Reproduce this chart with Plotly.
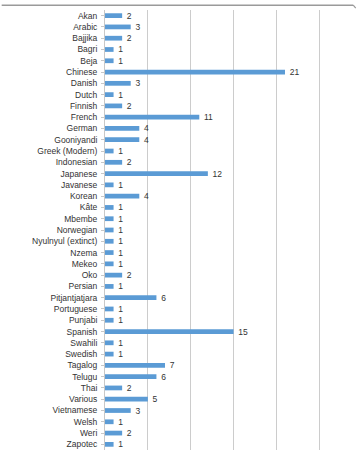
import plotly.graph_objects as go

languages = ["Akan", "Arabic", "Bajjika", "Bagri", "Beja", "Chinese", "Danish", "Dutch",
             "Finnish", "French", "German", "Gooniyandi", "Greek (Modern)", "Indonesian",
             "Japanese", "Javanese", "Korean", "Kâte", "Mbembe", "Norwegian",
             "Nyulnyul (extinct)", "Nzema", "Mekeo", "Oko", "Persian", "Pitjantjatjara",
             "Portuguese", "Punjabi", "Spanish", "Swahili", "Swedish", "Tagalog", "Telugu",
             "Thai", "Various", "Vietnamese", "Welsh", "Weri", "Zapotec"]
counts = [2, 3, 2, 1, 1, 21, 3, 1, 2, 11, 4, 4, 1, 2, 12, 1, 4, 1, 1, 1,
          1, 1, 1, 2, 1, 6, 1, 1, 15, 1, 1, 7, 6, 2, 5, 3, 1, 2, 1]
grid_ticks = [0, 5, 10, 15, 20, 25]

W, H = 357, 451
ml, mr, mt, mb = 105, 0, 10, 1

fig = go.Figure(go.Bar(
    x=counts, y=languages, orientation="h",
    marker=dict(color="#5B9BD5", line=dict(width=0)),
    text=counts, texttemplate="  %{text}", textposition="outside",
    constraintext="none",
    textfont=dict(family="Liberation Sans, Arial, sans-serif", size=8.5, color="#333333"),
    cliponaxis=False,
))

fig.add_shape(type="line", xref="paper", yref="paper", layer="above",
              x0=-0.41, x1=0.985, y0=1.011, y1=1.011,
              line=dict(color="#9A9A9A", width=1.5))
fig.add_shape(type="line", xref="paper", yref="paper", layer="above",
              x0=0.985, x1=0.995, y0=1.011, y1=1.004,
              line=dict(color="#9A9A9A", width=1.2))

fig.update_layout(
    width=W, height=H,
    margin=dict(l=ml, r=mr, t=mt, b=mb, pad=0),
    paper_bgcolor="white", plot_bgcolor="white",
    bargap=0.58,
    showlegend=False,
    font=dict(family="Liberation Sans, Arial, sans-serif", size=8.5, color="#333333"),
    xaxis=dict(range=[0, 29.4], tickvals=grid_ticks, showticklabels=False,
               showgrid=True, gridcolor="#CCCCCC", gridwidth=1,
               zeroline=False, showline=False, ticks=""),
    yaxis=dict(autorange="reversed", showline=True, linecolor="#C8C8C8", linewidth=1,
               ticks="outside", ticklen=3, tickcolor="#C8C8C8", showgrid=False,
               ticklabelstandoff=2, tickfont=dict(size=8.5, color="#333333")),
)

fig.write_html("out.html")
